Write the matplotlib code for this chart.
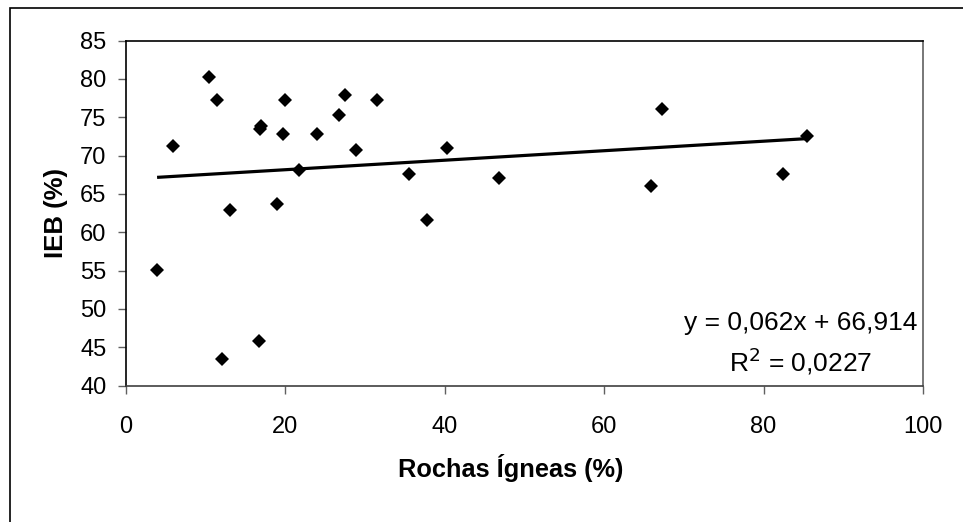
#!/usr/bin/env python3
"""Dispersao IEB (%) x Rochas Igneas (%) com reta de tendencia linear."""

import matplotlib
matplotlib.use("Agg")
import matplotlib.pyplot as plt
from matplotlib.patches import Rectangle
import numpy as np

# Valores
rochas_igneas = [3.9, 5.9, 10.4, 11.4, 12.0, 13.1, 16.8, 17.0, 16.7, 19.0, 19.7, 20.0,
                 21.7, 24.0, 26.7, 27.5, 28.9, 31.5, 35.5, 37.8, 40.3, 46.8, 65.9,
                 67.2, 82.4, 85.4]
ieb = [55.1, 71.2, 80.3, 77.2, 43.4, 62.9, 73.5, 73.9, 45.8, 63.7, 72.8, 77.2,
       68.1, 72.8, 75.3, 77.9, 70.7, 77.2, 67.6, 61.6, 71.0, 67.1, 66.0,
       76.1, 67.6, 72.6]

# Coeficientes da reta de tendencia (como mostrados no grafico)
inclinacao = 0.062
intercepto = 66.914
r2 = 0.0227

x_ticks = [0, 20, 40, 60, 80, 100]
y_ticks = [40, 45, 50, 55, 60, 65, 70, 75, 80, 85]

plt.rcParams["font.family"] = ["Liberation Sans", "DejaVu Sans"]

fig = plt.figure(figsize=(9.63, 5.22), dpi=100)
ax = fig.add_axes([126 / 963, 1 - 385.5 / 522, (923 - 126) / 963, (385.5 - 40.6) / 522])

ax.plot(rochas_igneas, ieb, linestyle="none", marker="D", markersize=7.5,
        color="black", markeredgewidth=0, zorder=3)

x_lin = np.array([min(rochas_igneas), max(rochas_igneas)])
ax.plot(x_lin, inclinacao * x_lin + intercepto, color="black", linewidth=2.3,
        solid_capstyle="butt", zorder=2)

ax.set_xlim(0, 100)
ax.set_ylim(40, 85)
ax.set_xticks(x_ticks)
ax.set_yticks(y_ticks)
ax.tick_params(axis="both", direction="out", length=6, width=1, color="#606060",
               labelsize=17)
ax.tick_params(axis="x", pad=16)
ax.tick_params(axis="y", pad=8)

ax.spines["top"].set_color("black")
ax.spines["left"].set_color("black")
ax.spines["right"].set_color("#606060")
ax.spines["bottom"].set_color("#404040")
for sp in ax.spines.values():
    sp.set_linewidth(1.2)

ax.set_ylabel("IEB (%)", fontsize=18.5, fontweight="bold", labelpad=9)
fig.text(511 / 963, 1 - 468 / 522, "Rochas Ígneas (%)", fontsize=18.3,
         fontweight="bold", ha="center", va="center")

ax.text(801 / 963, 1 - 323 / 522,
        f"y = {inclinacao:.3f}x + {intercepto:.3f}".replace(".", ","),
        transform=fig.transFigure, fontsize=19, ha="center", va="center")
ax.text(801 / 963, 1 - 361 / 522, f"R$^2$ = {r2:.4f}".replace(".", ","),
        transform=fig.transFigure, fontsize=19, ha="center", va="center")

# moldura externa do grafico (so bordas esquerda e superior visiveis)
fig.patches.append(Rectangle((10 / 963, -0.1), 1.2, 1 - 8 / 522 + 0.1,
                             transform=fig.transFigure, fill=False,
                             edgecolor="black", linewidth=1.2))

fig.savefig("out.png", dpi=100)
